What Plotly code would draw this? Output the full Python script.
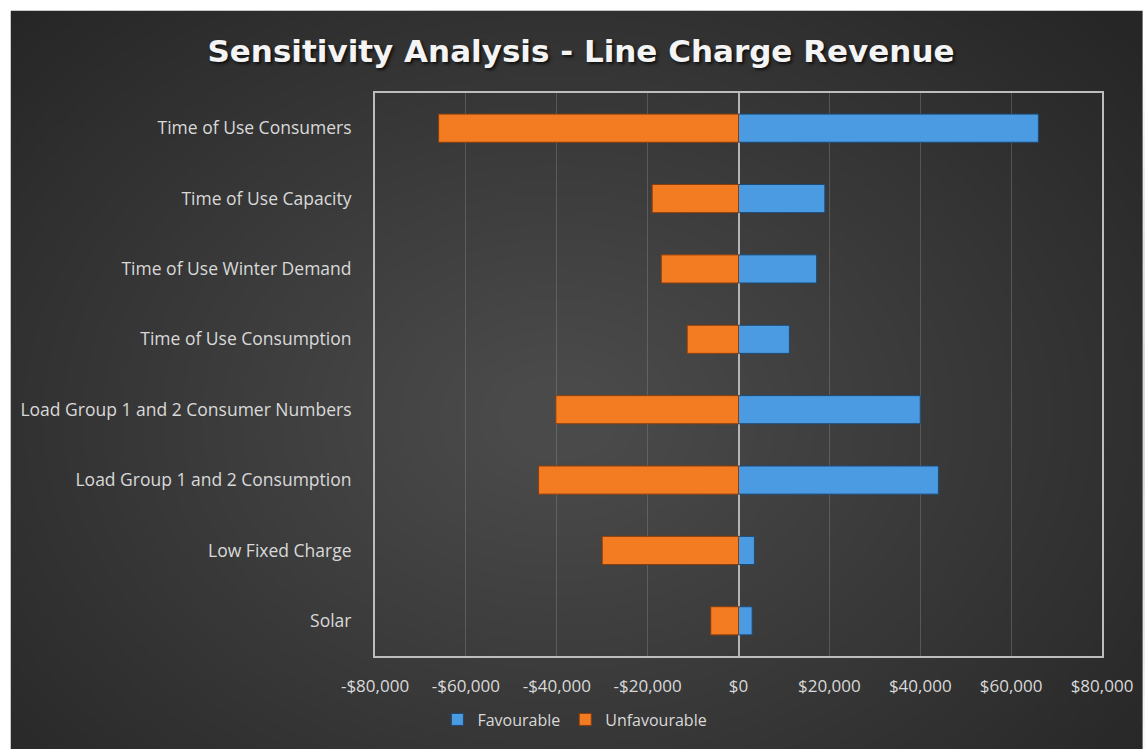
import plotly.graph_objects as go

# data
factors = ['Time of Use Consumers', 'Time of Use Capacity', 'Time of Use Winter Demand',
           'Time of Use Consumption', 'Load Group 1 and 2 Consumer Numbers',
           'Load Group 1 and 2 Consumption', 'Low Fixed Charge', 'Solar']
favourable = [66000, 19000, 17200, 11200, 40000, 44000, 3500, 3000]
unfavourable = [-66000, -19000, -17000, -11300, -40200, -44000, -30000, -6100]
tick_vals = [-80000, -60000, -40000, -20000, 0, 20000, 40000, 60000, 80000]
tick_text = ['-$80,000', '-$60,000', '-$40,000', '-$20,000', '$0',
             '$20,000', '$40,000', '$60,000', '$80,000']

W, H = 1145, 749
L, R, T, B = 375, 36, 93, 89
pw, ph = W - L - R, H - T - B

def px(x):
    return (x - L) / pw

def py(y):
    return (H - B - y) / ph

fig = go.Figure()
fig.add_trace(go.Bar(y=factors, x=favourable, orientation='h', name='Favourable',
                     marker=dict(color='#4b9be3', line=dict(color='#1d4a75', width=1))))
fig.add_trace(go.Bar(y=factors, x=unfavourable, orientation='h', name='Unfavourable',
                     marker=dict(color='#f37b22', line=dict(color='#8a3e0e', width=1))))

# background: dark card with a soft radial glow
shapes = [dict(type='rect', xref='paper', yref='paper', layer='below',
               x0=px(7), x1=px(W + 5), y0=py(10), y1=py(H + 5),
               fillcolor='#262626', line_width=0)]
cx, cy = 560, 420
n = 36
for i in range(n):
    rx = 760 - i * 20
    ry = rx * 0.75
    shapes.append(dict(type='circle', xref='paper', yref='paper', layer='below',
                       x0=px(cx - rx), x1=px(cx + rx), y0=py(cy - ry), y1=py(cy + ry),
                       fillcolor='#727272', opacity=0.028, line_width=0))
# white strip along the top and left edge
shapes.append(dict(type='rect', xref='paper', yref='paper', layer='below',
                   x0=px(-5), x1=px(W + 5), y0=py(10), y1=py(-5), fillcolor='white', line_width=0))
shapes.append(dict(type='rect', xref='paper', yref='paper', layer='below',
                   x0=px(-5), x1=px(7), y0=py(-5), y1=py(H + 5), fillcolor='white', line_width=0))

fig.update_layout(
    width=W, height=H,
    margin=dict(l=L, r=R, t=T, b=B),
    paper_bgcolor='white', plot_bgcolor='rgba(0,0,0,0)',
    barmode='relative', bargap=0.6,
    shapes=shapes,
    title=dict(text='<b>Sensitivity Analysis - Line Charge Revenue</b>',
               x=581 / W, y=1 - 51 / H, xref='container', yref='container',
               xanchor='center', yanchor='middle',
               font=dict(family='DejaVu Sans', size=31, color='#f4f4f4',
                         shadow='2px 2px 3px #111111')),
    font=dict(family='Open Sans', color='#d9d9d9'),
    legend=dict(orientation='h', x=px(438), y=py(724), xanchor='left', yanchor='middle',
                font=dict(size=16, color='#d9d9d9'), bgcolor='rgba(0,0,0,0)',
                traceorder='normal', itemwidth=30),
    xaxis=dict(range=[-80000, 80000], tickvals=tick_vals, ticktext=tick_text,
               showgrid=True, gridcolor='rgba(150,150,150,0.35)', gridwidth=1,
               zeroline=True, zerolinecolor='#b5b5b5', zerolinewidth=2,
               showline=True, linecolor='#bdbdbd', linewidth=2, mirror=True,
               ticks='', ticklabelstandoff=14,
               tickfont=dict(size=17, color='#d9d9d9')),
    yaxis=dict(autorange='reversed', showgrid=False, showline=True, linecolor='#bdbdbd',
               linewidth=2, mirror=True, ticks='', ticklabelstandoff=18,
               tickfont=dict(size=17.5, color='#d9d9d9')),
)

fig.write_html('out.html', config={'displayModeBar': False},
               post_script="document.body.style.margin='0';")
